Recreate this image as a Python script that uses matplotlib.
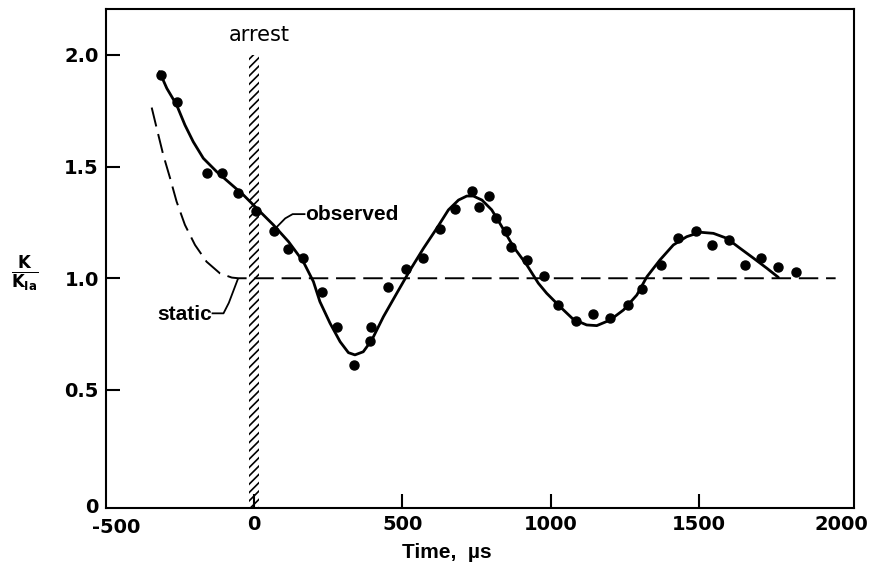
import matplotlib
matplotlib.use("Agg")
import matplotlib.pyplot as plt
from matplotlib.transforms import ScaledTranslation

# measured points (time in microseconds, K/K_Ia)
obs_t = [-313, -260, -157, -109, -53, 7, 67, 116, 164, 228, 281, 337, 391, 393,
         453, 512, 569, 627, 677, 734, 759, 792, 816, 849, 866, 921, 977, 1024,
         1085, 1142, 1200, 1259, 1307, 1371, 1430, 1489, 1543, 1601, 1653, 1708,
         1765, 1826]
obs_k = [1.91, 1.79, 1.47, 1.47, 1.38, 1.30, 1.21, 1.13, 1.09, 0.94, 0.78, 0.61,
         0.72, 0.78, 0.96, 1.04, 1.09, 1.22, 1.31, 1.39, 1.32, 1.37, 1.27, 1.21,
         1.14, 1.08, 1.01, 0.88, 0.81, 0.84, 0.82, 0.88, 0.95, 1.06, 1.18, 1.21,
         1.15, 1.17, 1.06, 1.09, 1.05, 1.03]

# "observed" curve
fit_t = [-319, -294, -261, -233, -205, -171, -126, -81, -36, 9, 65, 116, 166,
         200, 222, 256, 290, 318, 340, 368, 397, 436, 481, 526, 571, 616, 655,
         689, 717, 739, 768, 801, 835, 874, 919, 958, 986, 1031, 1076, 1121,
         1155, 1200, 1245, 1290, 1324, 1368, 1413, 1458, 1503, 1548, 1593, 1638,
         1683, 1728, 1767]
fit_k = [1.925, 1.850, 1.776, 1.686, 1.611, 1.537, 1.477, 1.425, 1.373, 1.313,
         1.239, 1.164, 1.074, 0.985, 0.895, 0.799, 0.716, 0.667, 0.657, 0.671,
         0.724, 0.828, 0.933, 1.037, 1.134, 1.224, 1.306, 1.350, 1.368, 1.368,
         1.350, 1.306, 1.231, 1.141, 1.060, 0.978, 0.933, 0.873, 0.816, 0.791,
         0.788, 0.813, 0.858, 0.925, 1.007, 1.082, 1.149, 1.186, 1.206, 1.201,
         1.179, 1.134, 1.090, 1.045, 1.004]

# "static" curve (dashed)
static_t = [-345, -328, -306, -283, -261, -233, -199, -160, -115, -75, -53, 1960]
static_k = [1.764, 1.671, 1.552, 1.448, 1.343, 1.239, 1.149, 1.074, 1.022, 1.003,
            1.0, 1.0]

arrest_t = 0
arrest_top = 2.0

x_ticks = [-500, 0, 500, 1000, 1500, 2000]
y_ticks = [0.5, 1.0, 1.5, 2.0]
y_bottom = -0.027

tick_font = {"family": "DejaVu Sans", "weight": "bold", "size": 14}
lab_font = {"family": "Liberation Sans", "weight": "bold", "size": 15}

plt.rcParams["hatch.linewidth"] = 1.2
fig = plt.figure(figsize=(8.83, 5.64), dpi=100)
ax = fig.add_axes([0.1197, 0.0998, 0.8475, 0.8834])

# hatched band at arrest
ax.bar(arrest_t, arrest_top - y_bottom, bottom=y_bottom, width=34, fill=False,
       hatch="////", edgecolor="black", linewidth=0, zorder=1)

ax.plot(static_t, static_k, color="black", lw=1.4, dashes=(10, 4), zorder=2)
ax.plot(fit_t, fit_k, color="black", lw=2.0, zorder=3,
        solid_joinstyle="round", solid_capstyle="round")
ax.plot(obs_t, obs_k, "o", color="black", markersize=6.5, zorder=4)

# leader lines for the labels
ax.plot([71, 105, 130, 170], [1.222, 1.268, 1.287, 1.287], color="black", lw=1.3)
ax.plot([-140, -103, -85, -55], [0.843, 0.843, 0.89, 0.995], color="black", lw=1.3)
ax.text(172, 1.285, "observed", va="center", ha="left", fontdict=lab_font)
ax.text(-143, 0.84, "static", va="center", ha="right", fontdict=lab_font)
ax.text(16, 2.089, "arrest", va="center", ha="center",
        family="DejaVu Sans", size=15)

ax.set_xlim(-500, 2022)
ax.set_ylim(y_bottom, 2.203)

ax.set_xticks(x_ticks, [str(v) for v in x_ticks], fontdict=tick_font)
ax.set_yticks([y_bottom] + y_ticks, ["0"] + ["%.1f" % v for v in y_ticks],
              fontdict=tick_font)
ax.tick_params(direction="in", length=10, width=1.5, pad=5)
xt = ax.xaxis.get_major_ticks()
xt[0].tick1line.set_visible(False)
xt[-1].tick1line.set_visible(False)
ax.yaxis.get_major_ticks()[0].tick1line.set_visible(False)
for s in ax.spines.values():
    s.set_linewidth(1.5)

# nudge the end labels like in the original
xlabels = ax.get_xticklabels()
xlabels[0].set_transform(xlabels[0].get_transform() +
                         ScaledTranslation(0.10, -0.03, fig.dpi_scale_trans))
xlabels[-1].set_transform(xlabels[-1].get_transform() +
                          ScaledTranslation(-0.06, 0, fig.dpi_scale_trans))
ylabels = ax.get_yticklabels()
ylabels[0].set_transform(ylabels[0].get_transform() +
                         ScaledTranslation(0, 0.02, fig.dpi_scale_trans))

fig.text(447 / 883, 1 - 553 / 564, "Time,  µs", ha="center", va="center",
         fontdict=lab_font)
fig.text(25 / 883, 1 - 274 / 564, r"$\mathbf{\frac{K}{K_{Ia}}}$", ha="center",
         va="center", size=17)

plt.savefig("out.png", dpi=100)
